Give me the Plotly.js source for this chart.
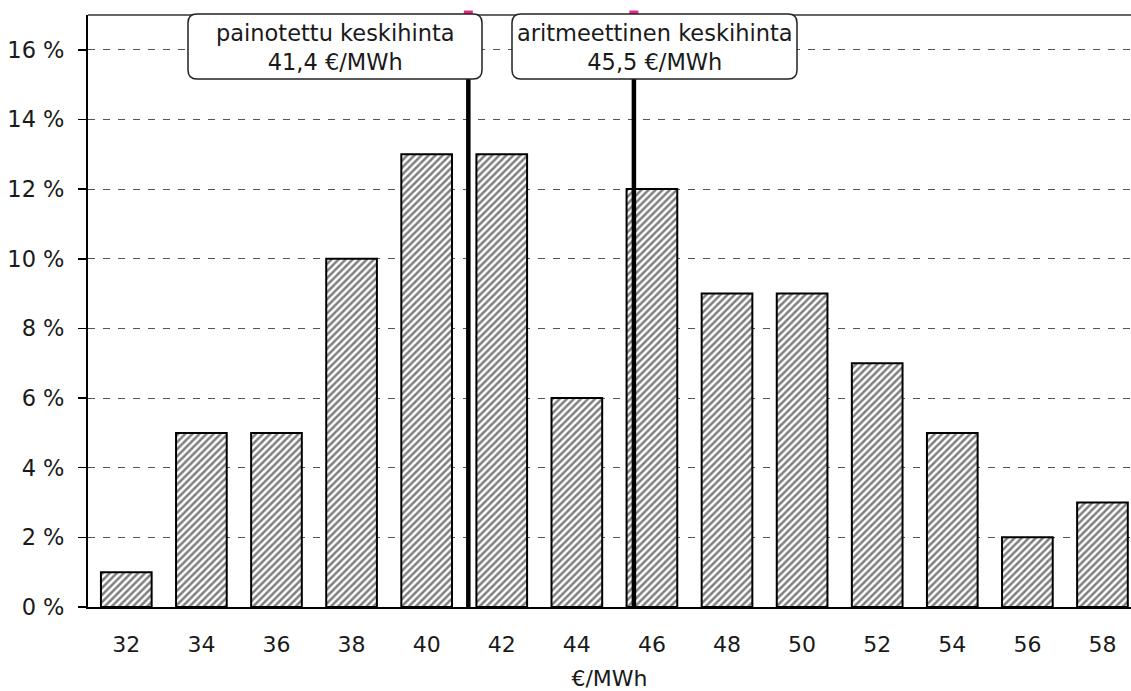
<!DOCTYPE html>
<html>
<head>
<meta charset="utf-8">
<script src="https://cdn.plot.ly/plotly-3.0.1.min.js"></script>
<style>html,body{margin:0;padding:0;background:#fff;overflow:hidden}</style>
</head>
<body>
<div id="chart" style="width:1131px;height:691px"></div>
<script>
// ---- data ----
var priceBins = [32, 34, 36, 38, 40, 42, 44, 46, 48, 50, 52, 54, 56, 58];
var shares    = [1, 5, 5, 10, 13, 13, 6, 12, 9, 9, 7, 5, 2, 3];
var yTickVals = [0, 2, 4, 6, 8, 10, 12, 14, 16];
var yTickText = ['0 %', '2 %', '4 %', '6 %', '8 %', '10 %', '12 %', '14 %', '16 %'];
var markerX     = [41.11, 45.52];
var markerLabel = ['painotettu keskihinta<br>41,4 €/MWh', 'aritmeettinen keskihinta<br>45,5 €/MWh'];
var xTitle = '€/MWh';

// ---- layout geometry ----
var W = 1131, H = 691, L = 88, R = 0, T = 15, B = 84;
var PW = W - L - R, PH = H - T - B;
var xRange = [30.98, 58.76];
function px2paperX(px) { return (px - L) / PW; }
function px2paperY(py) { return (H - B - py) / PH; }
function val2paperX(v) { return (v - xRange[0]) / (xRange[1] - xRange[0]); }

function roundRect(x0, y0, x1, y1, r) {
  var X = px2paperX, Y = px2paperY;
  return 'M' + X(x0 + r) + ',' + Y(y0) +
    ' L' + X(x1 - r) + ',' + Y(y0) +
    ' Q' + X(x1) + ',' + Y(y0) + ' ' + X(x1) + ',' + Y(y0 + r) +
    ' L' + X(x1) + ',' + Y(y1 - r) +
    ' Q' + X(x1) + ',' + Y(y1) + ' ' + X(x1 - r) + ',' + Y(y1) +
    ' L' + X(x0 + r) + ',' + Y(y1) +
    ' Q' + X(x0) + ',' + Y(y1) + ' ' + X(x0) + ',' + Y(y1 - r) +
    ' L' + X(x0) + ',' + Y(y0 + r) +
    ' Q' + X(x0) + ',' + Y(y0) + ' ' + X(x0 + r) + ',' + Y(y0) + ' Z';
}

var boxes = [[188, 14, 482, 79], [512, 14, 797, 79]];

var FONT = 'DejaVu Sans, Verdana, sans-serif';

var trace = {
  type: 'bar',
  x: priceBins,
  y: shares,
  width: 1.35,
  marker: {
    color: '#ffffff',
    line: {color: '#000000', width: 2},
    pattern: {shape: '/', fgcolor: '#000000', bgcolor: '#ffffff', size: 5, solidity: 0.5, fillmode: 'overlay'}
  },
  hoverinfo: 'skip'
};

var shapes = [];
// top border line
shapes.push({type: 'line', xref: 'paper', yref: 'paper', x0: 0, x1: 1, y0: 1, y1: 1,
  line: {color: '#666666', width: 2}, layer: 'above'});
// vertical marker lines
markerX.forEach(function (v) {
  shapes.push({type: 'line', xref: 'x', yref: 'y', x0: v, x1: v, y0: 0, y1: 17,
    line: {color: '#000000', width: 4.5}, layer: 'above'});
  shapes.push({type: 'rect', xref: 'paper', yref: 'paper',
    x0: val2paperX(v) - 4.5 / PW, x1: val2paperX(v) + 4.5 / PW,
    y0: px2paperY(14.5), y1: px2paperY(10.5),
    fillcolor: '#e8258a', line: {width: 0}, layer: 'above'});
});
// rounded label boxes
boxes.forEach(function (b) {
  shapes.push({type: 'path', xref: 'paper', yref: 'paper', path: roundRect(b[0], b[1], b[2], b[3], 9),
    fillcolor: '#ffffff', line: {color: '#222222', width: 1.5}, layer: 'above'});
});

var annotations = boxes.map(function (b, i) {
  return {
    xref: 'paper', yref: 'paper',
    x: px2paperX((b[0] + b[2]) / 2), y: px2paperY((b[1] + b[3]) / 2 + 1),
    xanchor: 'center', yanchor: 'middle',
    text: markerLabel[i], showarrow: false, align: 'center',
    font: {family: FONT, size: 22.5, color: '#1a1a1a'}
  };
});

var layout = {
  width: W, height: H,
  margin: {l: L, r: R, t: T, b: B, pad: 0},
  paper_bgcolor: '#ffffff', plot_bgcolor: '#ffffff',
  showlegend: false,
  bargap: 0,
  xaxis: {
    type: 'linear', range: xRange, fixedrange: true,
    tickmode: 'array', tickvals: priceBins, ticktext: priceBins.map(String),
    ticks: '', showgrid: false, zeroline: false,
    showline: true, linecolor: '#000000', linewidth: 2,
    ticklabelstandoff: 17,
    tickfont: {family: FONT, size: 22, color: '#1a1a1a'},
    title: {text: xTitle, font: {family: FONT, size: 22, color: '#1a1a1a'}, standoff: 14},
    automargin: false
  },
  yaxis: {
    range: [0, 17], fixedrange: true,
    tickmode: 'array', tickvals: yTickVals, ticktext: yTickText,
    ticks: 'outside', ticklen: 8, tickwidth: 1.5, tickcolor: '#000000',
    showline: true, linecolor: '#000000', linewidth: 2,
    showgrid: true, gridcolor: '#555555', gridwidth: 1, griddash: '7px,8px',
    zeroline: false,
    ticklabelstandoff: 9,
    tickfont: {family: FONT, size: 22.5, color: '#1a1a1a'},
    automargin: false
  },
  shapes: shapes,
  annotations: annotations
};

Plotly.newPlot('chart', [trace], layout, {staticPlot: true, displayModeBar: false});
</script>
</body>
</html>
